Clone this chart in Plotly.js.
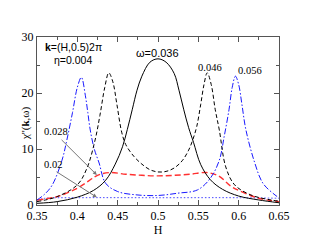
<!DOCTYPE html>
<html><head><meta charset="utf-8">
<script src="https://cdn.plot.ly/plotly-3.0.1.min.js"></script>
<style>body{margin:0;background:#fff}#c{width:314px;height:243px}</style>
</head><body><div id="c"></div>
<script>
// ω = 0.036 (solid black)
const h036 = [0.35,0.375,0.40,0.42,0.435,0.447,0.456,0.462,0.468,0.474,0.48,0.49,0.5,0.51,0.52,0.526,0.532,0.538,0.544,0.553,0.565,0.58,0.6,0.625,0.65];
const v036 = [0.3,0.6,1.4,2.6,4.4,7.3,10.4,13.5,17,20.5,23,25.5,26.1,25.5,23.5,20.5,17,13.8,11.2,7.2,4.5,2.8,1.6,0.9,0.4];
// ω = 0.046 (black dashed)
const h046 = [0.35,0.375,0.40,0.412,0.422,0.428,0.434,0.439,0.444,0.449,0.455,0.46,0.47,0.48,0.49,0.5,0.51,0.52,0.53,0.538,0.543,0.548,0.553,0.557,0.561,0.566,0.571,0.576,0.584,0.595,0.615,0.64,0.65];
const v046 = [0.6,1.5,3.6,6.6,11.6,16,21,23.6,22,18,13,10.8,8.7,7.3,6.3,5.9,6.0,6.6,7.9,9.8,11.6,14,18,21.5,23.6,21.5,17,13.4,6.8,3.6,1.8,0.9,0.7];
// ω = 0.056 (blue dash-dot)
const h056 = [0.35,0.36,0.369,0.381,0.387,0.394,0.4,0.405,0.41,0.413,0.416,0.421,0.427,0.435,0.45,0.474,0.5,0.524,0.549,0.565,0.576,0.582,0.588,0.592,0.596,0.6,0.604,0.609,0.62,0.63,0.645,0.65];
const v056 = [0.9,2.0,3.6,8,11.6,16.5,21,22.8,19.5,16.5,13.4,10,7.5,3.9,2.4,1.8,1.7,2.1,2.7,4.8,8,12.2,17,21,23.0,21.5,18,13.4,7.5,3.9,1.8,1.3];
// ω = 0.028 (red dashed)
const h028 = [0.35,0.375,0.40,0.415,0.425,0.44,0.46,0.48,0.5,0.52,0.54,0.56,0.575,0.59,0.6,0.625,0.65];
const v028 = [0.9,1.5,3.0,4.4,5.3,5.8,5.5,5.3,5.2,5.3,5.5,5.8,5.2,3.4,2.6,1.2,0.6];
// ω = 0.02 (blue dotted)
const h020 = [0.35,0.36,0.4,0.5,0.6,0.65];
const v020 = [0.9,1.2,1.3,1.3,1.3,1.2];

const serif = "Liberation Serif, Times New Roman, serif";
const sans = "Liberation Sans, Arial, sans-serif";

const traces = [
  {x:h020, y:v020, mode:'lines', line:{color:'#4646ff', width:1, dash:'1.5px,2px', shape:'spline'}},
  {x:h028, y:v028, mode:'lines', line:{color:'#ff3030', width:1.4, dash:'6px,3px', shape:'spline'}},
  {x:h056, y:v056, mode:'lines', line:{color:'#1a1aff', width:1, dash:'6px,2px,1.5px,2px', shape:'spline'}},
  {x:h046, y:v046, mode:'lines', line:{color:'#000', width:1, dash:'4px,2.5px', shape:'spline'}},
  {x:h036, y:v036, mode:'lines', line:{color:'#000', width:1, shape:'spline'}}
];

const axisCommon = {
  showline:true, linecolor:'#555', linewidth:1, mirror:'ticks',
  ticks:'inside', ticklen:5, tickcolor:'#555', showgrid:false, zeroline:false,
  tickfont:{family:serif, size:12, color:'#000'}
};

const layout = {
  width:314, height:243, showlegend:false,
  margin:{l:37, r:35, t:37, b:38},
  paper_bgcolor:'#fff', plot_bgcolor:'#fff',
  xaxis:Object.assign({}, axisCommon, {range:[0.35,0.65], dtick:0.05, tick0:0.35,
    minor:{dtick:0.025, ticklen:3, ticks:'inside', tickcolor:'#555'},
    title:{text:'H', font:{family:serif, size:12, color:'#000'}, standoff:1}}),
  yaxis:Object.assign({}, axisCommon, {range:[0,30], dtick:10,
    minor:{dtick:5, ticklen:3, ticks:'inside', tickcolor:'#555'}}),
  annotations:[
    {xref:'paper', yref:'paper', x:-0.083, y:0.49, text:"χ''(<b>k</b>,ω)", textangle:-90, showarrow:false,
     font:{family:serif, size:11, color:'#000'}},
    {x:0.3575, y:28.3, xanchor:'left', text:'<b>k</b>=(H,0.5)2π', showarrow:false, font:{family:sans, size:10.5, color:'#000'}},
    {x:0.3686, y:25.9, xanchor:'left', text:'η=0.004', showarrow:false, font:{family:sans, size:10.5, color:'#000'}},
    {x:0.4997, y:27.2, text:'ω=0.036', showarrow:false, font:{family:sans, size:11, color:'#000'}},
    {x:0.565, y:24.6, text:'0.046', showarrow:false, font:{family:serif, size:10.5, color:'#000'}},
    {x:0.6146, y:24.05, text:'0.056', showarrow:false, font:{family:serif, size:10.5, color:'#000'}},
    {x:0.3558, y:13.1, xanchor:'left', text:'0.028', showarrow:false, font:{family:serif, size:10.5, color:'#000'}},
    {x:0.3558, y:7.3, xanchor:'left', text:'0.02', showarrow:false, font:{family:serif, size:10.5, color:'#000'}},
    {x:0.4242, y:5.36, ax:0.3786, ay:11.9, axref:'x', ayref:'y', text:'', showarrow:true,
     arrowhead:2, arrowsize:0.8, arrowwidth:1, arrowcolor:'#777'},
    {x:0.4242, y:1.37, ax:0.3724, ay:6.1, axref:'x', ayref:'y', text:'', showarrow:true,
     arrowhead:2, arrowsize:0.8, arrowwidth:1, arrowcolor:'#777'}
  ]
};

Plotly.newPlot('c', traces, layout, {displayModeBar:false, staticPlot:true});
</script></body></html>
